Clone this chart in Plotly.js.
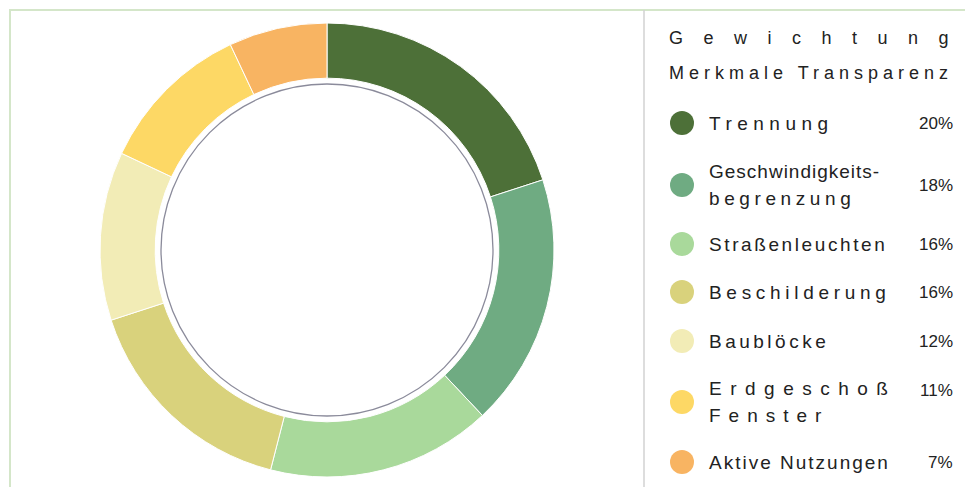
<!DOCTYPE html>
<html>
<head>
<meta charset="utf-8">
<script src="https://cdn.plot.ly/plotly-3.0.1.min.js"></script>
<style>
  html, body { margin: 0; padding: 0; background: #ffffff; }
  #chart { width: 965px; height: 487px; }
</style>
</head>
<body>
<div id="chart"></div>
<script>
// ---- data ----
const categories = ['Trennung', 'Geschwindigkeitsbegrenzung', 'Straßenleuchten', 'Beschilderung', 'Baublöcke', 'Erdgeschoß Fenster', 'Aktive Nutzungen'];
const values = [20, 18, 16, 16, 12, 11, 7];
const legendLines = [['Trennung'], ['Geschwindigkeits-', 'begrenzung'], ['Straßenleuchten'], ['Beschilderung'], ['Baublöcke'], ['Erdgeschoß', 'Fenster'], ['Aktive Nutzungen']];
const percentLabels = ['20%', '18%', '16%', '16%', '12%', '11%', '7%'];
const titleLines = ['Gewichtung', 'Merkmale Transparenz'];

// ---- styles / layout helpers ----
const colors = ['#4d7038', '#6fab82', '#a9d99b', '#d9d27c', '#f2ecb6', '#fdd865', '#f8b462'];
const W = 965, H = 487;
const px = x => x / W;
const py = y => 1 - y / H;
const rowY = [123, 185, 244, 292, 341, 402, 462];
const lineGap = 27;
const pctOffset = [0, 0, 0, 0, 0, -12, 0];
const labelSpacing = [[5.5], [1, 4.6], [2.6], [4.7], [3.5], [8.5, 8], [2]];
const titleSpacing = [20.5, 5];
const FONT = 'Liberation Sans, Arial, sans-serif';
const TXT = '#222222';

const cx = 327, cy = 250, R = 227;

const trace = {
  type: 'pie',
  labels: categories,
  values: values,
  sort: false,
  direction: 'clockwise',
  rotation: 0,
  hole: 0.757,
  textinfo: 'none',
  hoverinfo: 'label+percent',
  showlegend: false,
  marker: { colors: colors, line: { color: '#ffffff', width: 1 } },
  domain: { x: [px(cx - R), px(cx + R)], y: [py(cy + R), py(cy - R)] }
};

const annotations = [];
const spacings = [];
titleLines.forEach((t, i) => {
  annotations.push({
    xref: 'paper', yref: 'paper', x: px(667), y: py(38 + i * 35),
    xanchor: 'left', yanchor: 'middle', align: 'left', showarrow: false,
    text: t, font: { family: FONT, size: 18, color: TXT }
  });
  spacings.push(titleSpacing[i]);
});
legendLines.forEach((lines, i) => {
  const n = lines.length;
  lines.forEach((t, j) => {
    const y = rowY[i] + (j - (n - 1) / 2) * lineGap;
    annotations.push({
      xref: 'paper', yref: 'paper', x: px(707), y: py(y),
      xanchor: 'left', yanchor: 'middle', align: 'left', showarrow: false,
      text: t, font: { family: FONT, size: 19, color: TXT }
    });
    spacings.push(labelSpacing[i][j]);
  });
  annotations.push({
    xref: 'paper', yref: 'paper', x: px(955), y: py(rowY[i] + pctOffset[i]),
    xanchor: 'right', yanchor: 'middle', align: 'right', showarrow: false,
    text: percentLabels[i], font: { family: FONT, size: 17, color: TXT }
  });
  spacings.push(0);
});

const shapes = [
  // frame lines
  { type: 'line', xref: 'paper', yref: 'paper', x0: px(9), x1: px(965), y0: py(10), y1: py(10), line: { color: '#d4e6c9', width: 2 } },
  { type: 'line', xref: 'paper', yref: 'paper', x0: px(10), x1: px(10), y0: py(10), y1: py(487), line: { color: '#d4e6c9', width: 2 } },
  { type: 'line', xref: 'paper', yref: 'paper', x0: px(644), x1: px(644), y0: py(10), y1: py(487), line: { color: '#d2d2d2', width: 1.5 } },
  // inner ring line
  { type: 'circle', xref: 'paper', yref: 'paper', x0: px(cx - 166), x1: px(cx + 166), y0: py(cy + 166), y1: py(cy - 166), line: { color: '#8b8b9b', width: 1.3 } }
];
colors.forEach((c, i) => {
  shapes.push({
    type: 'circle', xref: 'paper', yref: 'paper',
    x0: px(670), x1: px(694), y0: py(rowY[i] + 12), y1: py(rowY[i] - 12),
    fillcolor: c, line: { width: 0 }
  });
});

const layout = {
  width: W, height: H,
  margin: { l: 0, r: 0, t: 0, b: 0 },
  paper_bgcolor: '#ffffff',
  plot_bgcolor: '#ffffff',
  showlegend: false,
  annotations: annotations,
  shapes: shapes
};

const SVGNS = 'http://www.w3.org/2000/svg';
Plotly.newPlot('chart', [trace], layout, { displayModeBar: false, staticPlot: true }).then(() => {
  document.querySelectorAll('g.annotation').forEach(g => {
    const idx = +g.getAttribute('data-index');
    const t = g.querySelector('text');
    if (!t || !spacings[idx]) return;
    const s = t.textContent;
    // letter-spacing on all but the last glyph, so no trailing space is added
    while (t.firstChild) t.removeChild(t.firstChild);
    const a = document.createElementNS(SVGNS, 'tspan');
    a.textContent = s.slice(0, -1);
    a.style.letterSpacing = spacings[idx] + 'px';
    const b = document.createElementNS(SVGNS, 'tspan');
    b.textContent = s.slice(-1);
    t.appendChild(a);
    t.appendChild(b);
  });
});
</script>
</body>
</html>
